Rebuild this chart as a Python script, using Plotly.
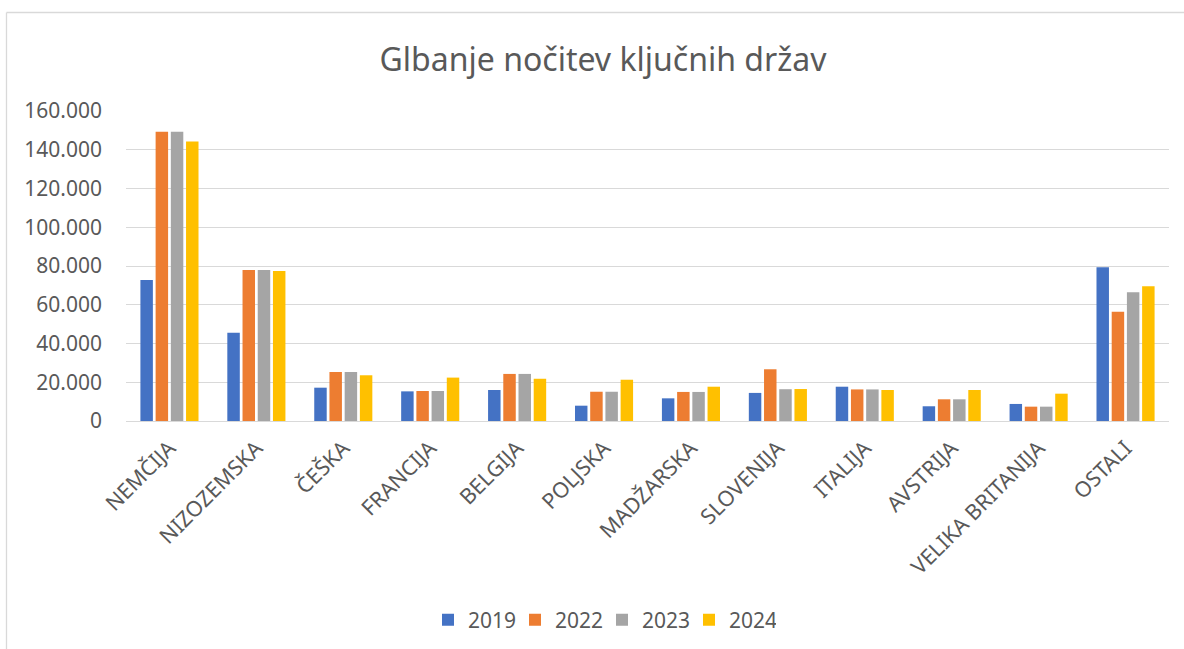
import plotly.graph_objects as go

categories = ["NEMČIJA", "NIZOZEMSKA", "ČEŠKA", "FRANCIJA", "BELGIJA", "POLJSKA",
              "MADŽARSKA", "SLOVENIJA", "ITALIJA", "AVSTRIJA", "VELIKA BRITANIJA", "OSTALI"]
v2019 = [72800, 45600, 17200, 15300, 16000, 7900, 11700, 14500, 17700, 7600, 8800, 79300]
v2022 = [149300, 77900, 25300, 15500, 24300, 15100, 15000, 26700, 16300, 11200, 7400, 56400]
v2023 = [149300, 77900, 25300, 15500, 24300, 15100, 15000, 16400, 16300, 11200, 7400, 66500]
v2024 = [144300, 77400, 23600, 22400, 21800, 21300, 17700, 16500, 16000, 16000, 14100, 69600]
series = [("2019", v2019, "#4472C4"), ("2022", v2022, "#ED7D31"),
          ("2023", v2023, "#A5A5A5"), ("2024", v2024, "#FFC000")]
ytick_vals = [0, 20000, 40000, 60000, 80000, 100000, 120000, 140000, 160000]

W, H = 1184, 649
L, R, T, B = 126, 1169, 111, 421
FONT = "Noto Sans"
TXT = "#595959"

fig = go.Figure()
for name, vals, col in series:
    fig.add_trace(go.Bar(x=categories, y=vals, name=name, marker=dict(color=col, line=dict(width=0))))

def px_x(p):
    return (p - L) / (R - L)

def px_y(p):
    return (B - p) / (B - T)

shapes = [
    dict(type="line", xref="paper", yref="paper", x0=px_x(6.5), x1=px_x(W + 5), y0=px_y(12.5), y1=px_y(12.5),
         line=dict(color="#d9d9d9", width=1.3)),
    dict(type="line", xref="paper", yref="paper", x0=px_x(6.5), x1=px_x(6.5), y0=px_y(12.5), y1=px_y(H + 5),
         line=dict(color="#d9d9d9", width=1.3)),
]

fig.update_layout(
    template="none",
    width=W, height=H, autosize=False,
    margin=dict(l=L, r=W - R, t=T, b=H - B, autoexpand=False),
    paper_bgcolor="white", plot_bgcolor="white",
    separators=",.",
    barmode="group", bargap=0.3, bargroupgap=0.18,
    font=dict(family=FONT, color=TXT, size=21),
    title=dict(text="Glbanje nočitev ključnih držav", x=603 / W, xanchor="center",
               y=1 - 60 / H, yanchor="middle", font=dict(size=32, color=TXT, family=FONT)),
    xaxis=dict(tickangle=-45, showgrid=False, showline=True, linecolor="#d9d9d9", linewidth=1.3,
               ticks="", tickfont=dict(size=21.5, color=TXT), ticklabelstandoff=5, automargin=False),
    yaxis=dict(range=[0, 160000], tickvals=ytick_vals, tickformat=",d", showgrid=True,
               gridcolor="#d9d9d9", gridwidth=1.3, zeroline=False, showline=False, ticks="",
               tickfont=dict(size=21, color=TXT), ticklabelstandoff=23, automargin=False),
    legend=dict(orientation="h", x=px_x(602), xanchor="center", y=px_y(620), yanchor="middle",
                font=dict(size=21, color=TXT), traceorder="normal", bgcolor="rgba(0,0,0,0)",
                entrywidth=42, entrywidthmode="pixels"),
    shapes=shapes,
    showlegend=True,
)

fig.write_html("out.html", config={"displayModeBar": False},
               post_script="document.body.style.margin='0';")
